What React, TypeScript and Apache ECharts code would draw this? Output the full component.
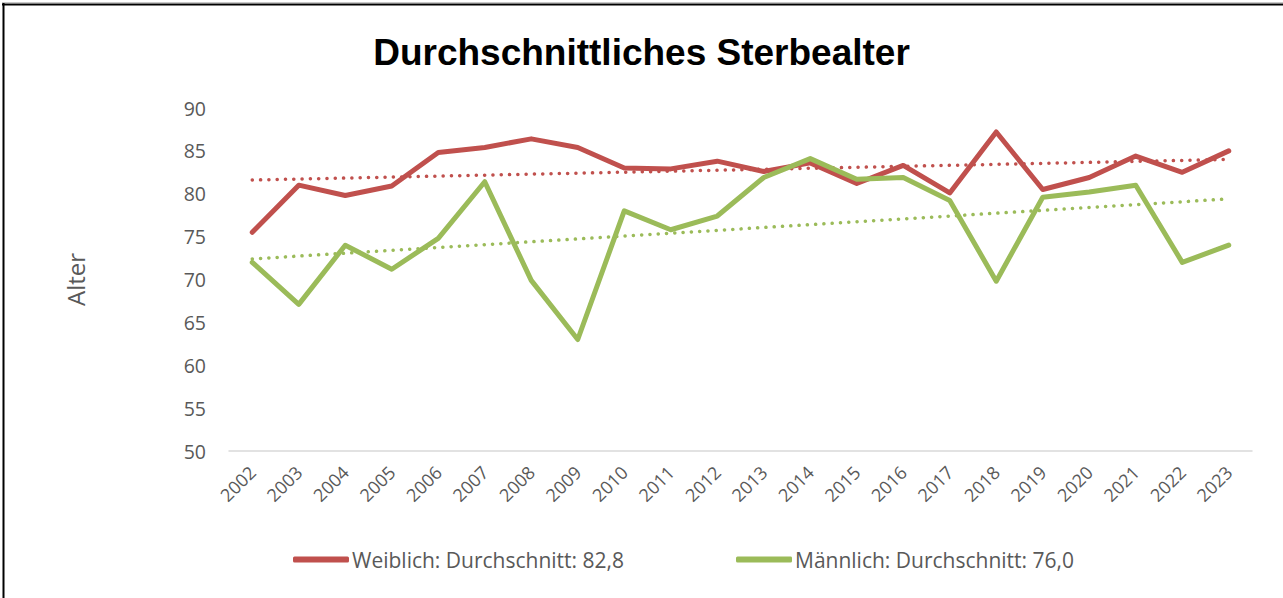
import React, { useEffect, useRef } from "react";
import * as echarts from "echarts";

const years = ["2002","2003","2004","2005","2006","2007","2008","2009","2010","2011","2012","2013","2014","2015","2016","2017","2018","2019","2020","2021","2022","2023"];
const weiblich = [75.5, 81.0, 79.8, 80.9, 84.8, 85.4, 86.4, 85.4, 83.0, 82.9, 83.8, 82.6, 83.6, 81.2, 83.3, 80.1, 87.2, 80.5, 81.9, 84.4, 82.5, 85.0];
const maennlich = [72.0, 67.1, 74.0, 71.2, 74.8, 81.4, 69.9, 63.0, 78.0, 75.8, 77.4, 81.9, 84.1, 81.7, 81.9, 79.2, 69.8, 79.6, 80.2, 81.0, 72.0, 74.0];
// Trendline endpoints (first year, last year) as shown in the chart
const trendWeiblich = [81.6, 84.0];
const trendMaennlich = [72.4, 79.4];
const yTicks = { min: 50, max: 90, interval: 5 };

const nameW = "Weiblich: Durchschnitt: 82,8";
const nameM = "Männlich: Durchschnitt: 76,0";
const RED = "#C0504D";
const GREEN = "#9BBB59";
const FONT = "'Open Sans', sans-serif";

export default function App() {
  const ref = useRef<HTMLDivElement>(null);
  useEffect(() => {
    document.body.style.margin = "0";
    const chart = echarts.init(ref.current!, null, { renderer: "svg" });
    const last = years.length - 1;
    chart.setOption({
      animation: false,
      backgroundColor: "#fff",
      title: {
        text: "Durchschnittliches Sterbealter",
        left: "center",
        top: 29,
        textStyle: { fontFamily: "'Liberation Sans', Arial, sans-serif", fontWeight: "bold", fontSize: 37, color: "#000" },
      },
      legend: {
        data: [nameW, nameM],
        left: 288,
        top: 544,
        itemWidth: 56,
        itemHeight: 6,
        itemGap: 112,
        icon: "roundRect",
        textStyle: { fontFamily: FONT, fontSize: 21, color: "#595959", padding: [0, 0, 0, -2] },
      },
      grid: { left: 229, right: 31, top: 108, bottom: 147, containLabel: false },
      xAxis: {
        type: "category",
        data: years,
        boundaryGap: true,
        axisLine: { lineStyle: { color: "#d9d9d9", width: 1.5 } },
        axisTick: { show: false },
        axisLabel: { rotate: 45, fontFamily: FONT, fontSize: 18, color: "#595959", margin: 18 },
      },
      yAxis: {
        type: "value",
        min: yTicks.min,
        max: yTicks.max,
        interval: yTicks.interval,
        name: "Alter",
        nameLocation: "middle",
        nameGap: 142,
        nameRotate: 90,
        nameTextStyle: { fontFamily: FONT, fontSize: 24, color: "#595959" },
        axisLine: { show: false },
        axisTick: { show: false },
        splitLine: { show: false },
        axisLabel: { fontFamily: FONT, fontSize: 19.5, color: "#595959", margin: 23 },
      },
      series: [
        {
          name: nameW, type: "line", data: weiblich, symbol: "none",
          lineStyle: { color: RED, width: 5, cap: "round", join: "round" }, itemStyle: { color: RED }, z: 3,
        },
        {
          name: nameM, type: "line", data: maennlich, symbol: "none",
          lineStyle: { color: GREEN, width: 5, cap: "round", join: "round" }, itemStyle: { color: GREEN }, z: 3,
        },
        {
          name: "TrendW", type: "line", symbol: "none", silent: true,
          data: [[years[0], trendWeiblich[0]], [years[last], trendWeiblich[1]]],
          lineStyle: { color: RED, width: 3.5, type: [0.1, 8.2], cap: "round" }, z: 2,
        },
        {
          name: "TrendM", type: "line", symbol: "none", silent: true,
          data: [[years[0], trendMaennlich[0]], [years[last], trendMaennlich[1]]],
          lineStyle: { color: GREEN, width: 3.5, type: [0.1, 8.2], cap: "round" }, z: 2,
        },
      ],
      graphic: [
        { type: "line", shape: { x1: 2, y1: 2.5, x2: 1283, y2: 2.5 }, style: { stroke: "#c8c8c8", lineWidth: 1 } },
        { type: "line", shape: { x1: 2, y1: 4.5, x2: 1283, y2: 4.5 }, style: { stroke: "#000", lineWidth: 2 } },
        { type: "line", shape: { x1: 3.5, y1: 3, x2: 3.5, y2: 598 }, style: { stroke: "#000", lineWidth: 2 } },
      ],
    });
    return () => chart.dispose();
  }, []);
  return <div ref={ref} style={{ width: 1283, height: 598 }} />;
}
